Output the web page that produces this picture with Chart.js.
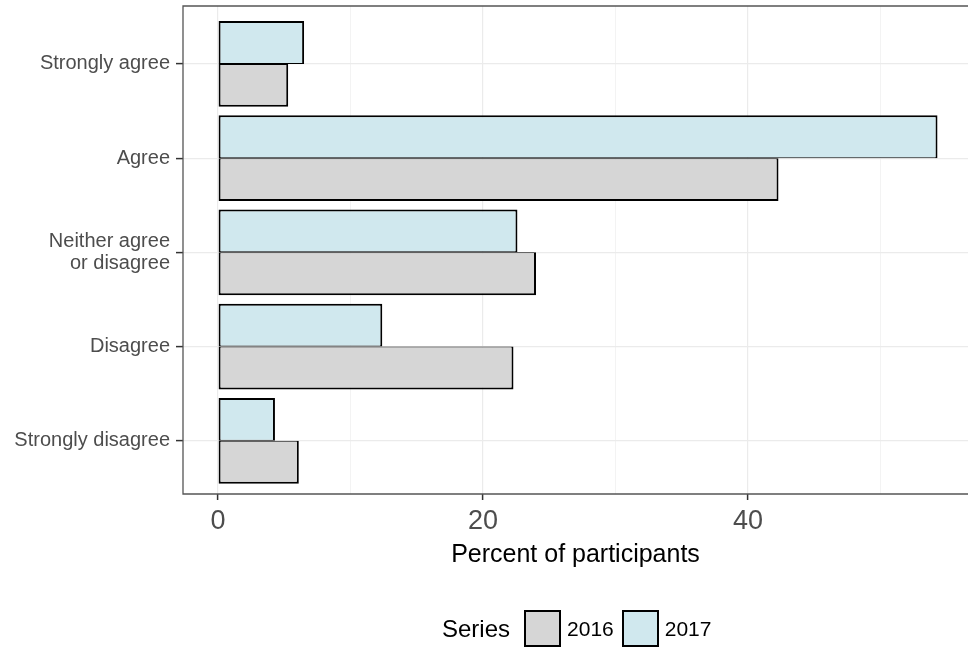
<!DOCTYPE html>
<html>
<head>
<meta charset="utf-8">
<script src="https://cdn.jsdelivr.net/npm/chart.js@4"></script>
<style>
  body { margin: 0; background: #fff; font-family: "Liberation Sans", Arial, sans-serif; }
  #wrap { position: relative; width: 968px; height: 650px; }
  #legend { position: absolute; left: 442px; top: 610px; height: 37px; display: flex; align-items: center; }
  #legend .title { font-size: 24px; color: #000; margin-right: 14px; }
  #legend .box { width: 33px; height: 33px; border: 2px solid #000; }
  #legend .lab { font-size: 21px; color: #000; margin: 0 8px 0 6px; }
</style>
</head>
<body>
<div id="wrap">
  <canvas id="chart" width="968" height="650"></canvas>
  <div id="legend"></div>
</div>
<script>
const categories = ["Strongly agree", "Agree", "Neither agree\nor disagree", "Disagree", "Strongly disagree"];
const pct2016 = [5.3, 42.3, 24.0, 22.3, 6.1];
const pct2017 = [6.5, 54.3, 22.6, 12.4, 4.3];
const xTicks = [0, 10, 20, 30, 40, 50];

const fill2016 = "#D6D6D6";
const fill2017 = "#D0E8EE";
const font = "'Liberation Sans', Arial, sans-serif";

// ggplot-style panel border (right edge is cut off by the window)
const panelBorder = {
  id: "panelBorder",
  afterDraw(chart) {
    const { ctx, chartArea: a } = chart;
    ctx.save();
    ctx.strokeStyle = "#555";
    ctx.lineWidth = 1.3;
    ctx.beginPath();
    ctx.moveTo(a.right + 2, a.top);
    ctx.lineTo(a.left, a.top);
    ctx.lineTo(a.left, a.bottom);
    ctx.lineTo(a.right + 2, a.bottom);
    ctx.stroke();
    ctx.restore();
  }
};

const toPoints = (vals) => vals.map((v, i) => ({ x: v, y: i + 1 }));

new Chart(document.getElementById("chart"), {
  type: "bar",
  data: {
    datasets: [
      {
        label: "2017",
        data: toPoints(pct2017),
        backgroundColor: fill2017,
        borderColor: "#000",
        borderWidth: { top: 2, left: 2, right: 2, bottom: 1 },
        borderSkipped: false,
      },
      {
        label: "2016",
        data: toPoints(pct2016),
        backgroundColor: fill2016,
        borderColor: "#000",
        borderWidth: { top: 1, left: 2, right: 2, bottom: 2 },
        borderSkipped: false,
      },
    ],
  },
  options: {
    responsive: false,
    animation: false,
    indexAxis: "y",
    layout: { padding: { top: 6, left: 0, right: 0, bottom: 76 } },
    datasets: { bar: { categoryPercentage: 0.91, barPercentage: 1 } },
    plugins: { legend: { display: false }, tooltip: { enabled: false } },
    scales: {
      x: {
        type: "linear",
        min: -2.64,
        max: 56.6,
        afterBuildTicks: (scale) => { scale.ticks = xTicks.map((v) => ({ value: v })); },
        afterFit: (scale) => { scale.height = 80; scale.paddingLeft = 0; scale.paddingRight = 0; },
        border: { display: false },
        grid: {
          color: "#EBEBEB",
          lineWidth: (ctx) => (ctx.tick && ctx.tick.value % 20 === 0 ? 1.2 : 0.6),
          tickColor: (ctx) => (ctx.tick && ctx.tick.value % 20 === 0 ? "#333" : "rgba(0,0,0,0)"),
          tickWidth: 1.5,
          tickLength: 6,
        },
        ticks: {
          color: "#4D4D4D",
          font: { family: font, size: 27 },
          padding: 5,
          maxRotation: 0,
          callback: (v) => (v % 20 === 0 ? v : ""),
        },
        title: {
          display: true,
          text: "Percent of participants",
          color: "#000",
          font: { family: font, size: 25 },
          padding: { top: 4, bottom: 4 },
        },
      },
      y: {
        type: "linear",
        reverse: true,
        offset: false,
        min: 0.385,
        max: 5.565,
        afterBuildTicks: (scale) => { scale.ticks = categories.map((c, i) => ({ value: i + 1 })); },
        afterFit: (scale) => { scale.width = 183; scale.paddingTop = 0; scale.paddingBottom = 0; },
        border: { display: false },
        grid: {
          offset: false,
          color: "#EBEBEB",
          lineWidth: 1.2,
          tickColor: "#333",
          tickWidth: 1.5,
          tickLength: 7,
        },
        ticks: {
          color: "#4D4D4D",
          font: { family: font, size: 20, lineHeight: 1.1 },
          padding: 6,
          callback: (v) => categories[v - 1].split("\n"),
        },
      },
    },
  },
  plugins: [panelBorder],
});

// legend: Series [] 2016 [] 2017
const legend = document.getElementById("legend");
legend.innerHTML =
  '<span class="title">Series</span>' +
  [["2016", fill2016], ["2017", fill2017]]
    .map(([lab, col]) => `<span class="box" style="background:${col}"></span><span class="lab">${lab}</span>`)
    .join("");
</script>
</body>
</html>
